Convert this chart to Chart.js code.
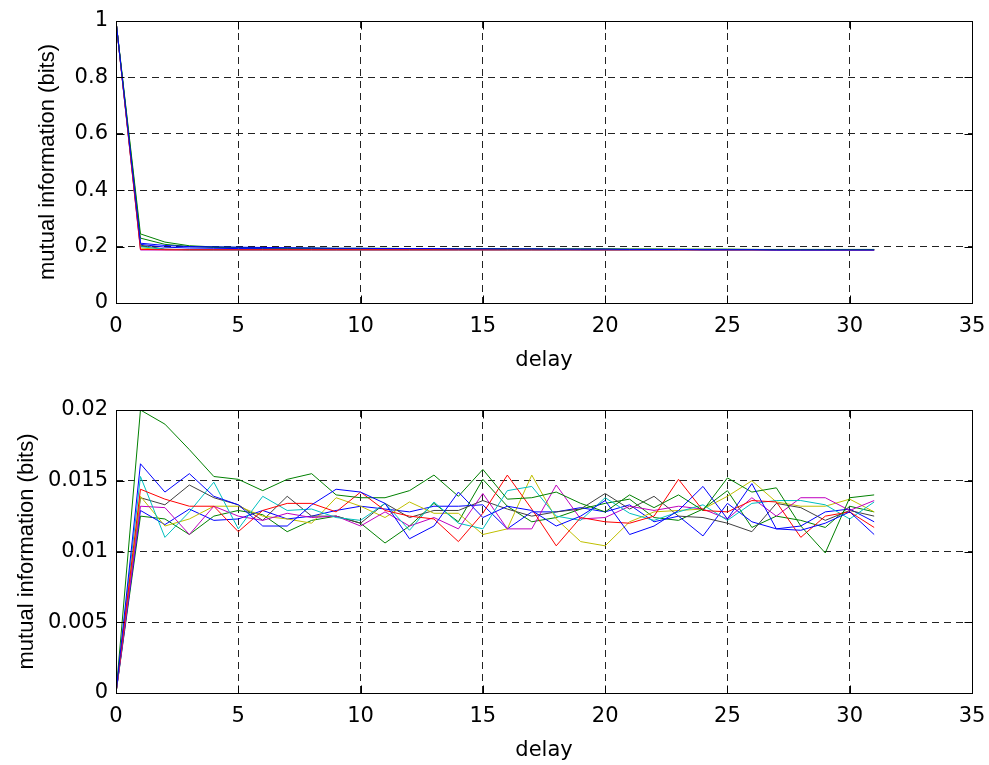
<!DOCTYPE html>
<html>
<head>
<meta charset="utf-8">
<script src="https://cdn.jsdelivr.net/npm/chart.js@4.4.1/dist/chart.umd.min.js"></script>
<style>
  html, body { margin: 0; padding: 0; background: #fff; }
  #wrap { position: relative; width: 989px; height: 765px; overflow: hidden; }
  canvas { position: absolute; left: 0; }
  #c1 { top: 0; }
  #c2 { top: 382px; }
</style>
</head>
<body>
<div id="wrap">
  <canvas id="c1" width="989" height="382"></canvas>
  <canvas id="c2" width="989" height="383"></canvas>
</div>
<script>
// ---------- data ----------
const delays = [0,1,2,3,4,5,6,7,8,9,10,11,12,13,14,15,16,17,18,19,20,21,22,23,24,25,26,27,28,29,30,31];
const xTicks = [0,5,10,15,20,25,30,35];
const yTicksTop = [0,0.2,0.4,0.6,0.8,1];
const yTicksBottom = [0,0.005,0.01,0.015,0.02];
const xTitle = 'delay';
const yTitle = 'mutual information (bits)';

// series colours (MATLAB default order b,g,r,c,m,y,k,b,g)
const seriesColors = ['#0000ff','#008000','#ff0000','#00bfbf','#bf00bf','#bfbf00','#404040','#0000ff','#008000'];

// top panel
const topB1 = [1,0.212,0.204,0.200,0.199,0.198,0.197,0.196,0.195,0.194,0.194,0.193,0.193,0.193,0.192,0.192,0.192,0.192,0.191,0.191,0.191,0.190,0.190,0.190,0.189,0.189,0.189,0.188,0.188,0.188,0.188,0.188];
const topG1 = [1,0.245,0.216,0.203,0.199,0.197,0.196,0.195,0.195,0.194,0.194,0.194,0.193,0.193,0.193,0.193,0.192,0.192,0.192,0.192,0.192,0.191,0.191,0.191,0.191,0.191,0.190,0.190,0.190,0.190,0.190,0.190];
const topR  = [1,0.190,0.189,0.189,0.189,0.189,0.189,0.189,0.189,0.189,0.189,0.189,0.189,0.189,0.189,0.189,0.189,0.189,0.189,0.189,0.189,0.189,0.189,0.189,0.189,0.189,0.189,0.189,0.189,0.189,0.189,0.189];
const topC  = [1,0.200,0.190,0.189,0.189,0.189,0.189,0.189,0.189,0.189,0.189,0.189,0.189,0.189,0.189,0.189,0.189,0.189,0.189,0.189,0.189,0.189,0.189,0.189,0.189,0.189,0.189,0.189,0.189,0.189,0.189,0.189];
const topM  = [1,0.188,0.188,0.188,0.188,0.188,0.188,0.188,0.188,0.188,0.188,0.188,0.188,0.188,0.188,0.188,0.188,0.188,0.188,0.188,0.188,0.188,0.188,0.188,0.188,0.188,0.188,0.188,0.188,0.188,0.188,0.188];
const topY  = [1,0.195,0.189,0.188,0.188,0.188,0.188,0.188,0.188,0.188,0.188,0.188,0.188,0.188,0.188,0.188,0.188,0.188,0.188,0.188,0.188,0.188,0.188,0.188,0.188,0.188,0.188,0.188,0.188,0.188,0.188,0.188];
const topK  = [1,0.205,0.191,0.189,0.189,0.189,0.189,0.189,0.189,0.189,0.189,0.189,0.189,0.189,0.189,0.189,0.189,0.189,0.189,0.189,0.189,0.189,0.189,0.189,0.189,0.189,0.189,0.189,0.189,0.189,0.189,0.189];
const topB2 = [1,0.208,0.198,0.195,0.194,0.193,0.193,0.192,0.192,0.192,0.191,0.191,0.191,0.191,0.190,0.190,0.190,0.190,0.190,0.189,0.189,0.189,0.189,0.189,0.188,0.188,0.188,0.187,0.187,0.187,0.187,0.187];
const topG2 = [1,0.230,0.208,0.200,0.197,0.196,0.195,0.194,0.194,0.193,0.193,0.193,0.193,0.192,0.192,0.192,0.192,0.192,0.191,0.191,0.191,0.191,0.191,0.190,0.190,0.190,0.190,0.189,0.189,0.189,0.189,0.189];

// bottom panel
const botB1 = [0,0.0162,0.0142,0.0155,0.0139,0.0133,0.0118,0.0118,0.0133,0.0144,0.0142,0.0134,0.0109,0.0118,0.0142,0.0124,0.0132,0.0129,0.0118,0.0125,0.0136,0.0112,0.0118,0.0129,0.0146,0.0123,0.0148,0.0116,0.0115,0.0120,0.0128,0.0112];
const botG1 = [0,0.0200,0.0190,0.0172,0.0153,0.0151,0.0143,0.0151,0.0155,0.0140,0.0138,0.0138,0.0143,0.0154,0.0139,0.0158,0.0137,0.0138,0.0142,0.0134,0.0128,0.0140,0.0131,0.0140,0.0129,0.0152,0.0142,0.0145,0.0118,0.0099,0.0138,0.0140];
const botR  = [0,0.0144,0.0137,0.0132,0.0132,0.0114,0.0129,0.0134,0.0134,0.0128,0.0142,0.0129,0.0125,0.0123,0.0107,0.0127,0.0154,0.0130,0.0104,0.0124,0.0121,0.0120,0.0125,0.0151,0.0129,0.0128,0.0136,0.0135,0.0110,0.0125,0.0128,0.0117];
const botC  = [0,0.0153,0.0110,0.0128,0.0149,0.0116,0.0139,0.0129,0.0130,0.0124,0.0122,0.0134,0.0115,0.0135,0.0120,0.0116,0.0143,0.0146,0.0125,0.0122,0.0138,0.0127,0.0122,0.0128,0.0133,0.0122,0.0134,0.0136,0.0136,0.0133,0.0123,0.0135];
const botM  = [0,0.0132,0.0131,0.0112,0.0132,0.0125,0.0122,0.0127,0.0124,0.0125,0.0118,0.0128,0.0118,0.0124,0.0116,0.0141,0.0116,0.0116,0.0147,0.0123,0.0124,0.0132,0.0129,0.0132,0.0130,0.0123,0.0138,0.0125,0.0138,0.0138,0.0129,0.0136];
const botY  = [0,0.0139,0.0118,0.0123,0.0132,0.0132,0.0125,0.0123,0.0120,0.0138,0.0132,0.0124,0.0135,0.0127,0.0127,0.0112,0.0116,0.0154,0.0123,0.0107,0.0104,0.0121,0.0128,0.0129,0.0130,0.0139,0.0150,0.0135,0.0132,0.0132,0.0137,0.0128];
const botK  = [0,0.0138,0.0133,0.0147,0.0138,0.0133,0.0122,0.0139,0.0125,0.0125,0.0120,0.0134,0.0124,0.0129,0.0129,0.0136,0.0130,0.0125,0.0128,0.0130,0.0141,0.0130,0.0139,0.0125,0.0124,0.0120,0.0114,0.0134,0.0131,0.0122,0.0129,0.0125];
const botB2 = [0,0.0129,0.0119,0.0130,0.0122,0.0123,0.0129,0.0123,0.0125,0.0129,0.0132,0.0130,0.0128,0.0132,0.0132,0.0133,0.0116,0.0128,0.0128,0.0131,0.0128,0.0133,0.0121,0.0125,0.0111,0.0134,0.0121,0.0116,0.0118,0.0128,0.0130,0.0121];
const botG2 = [0,0.0125,0.0123,0.0112,0.0125,0.0129,0.0126,0.0114,0.0122,0.0125,0.0120,0.0106,0.0118,0.0134,0.0121,0.0151,0.0132,0.0121,0.0124,0.0130,0.0134,0.0137,0.0124,0.0122,0.0130,0.0143,0.0117,0.0125,0.0122,0.0117,0.0132,0.0128];

const topSeries = [topB1, topG1, topR, topC, topM, topY, topK, topB2, topG2];
const botSeries = [botB1, botG1, botR, botC, botM, botY, botK, botB2, botG2];

// ---------- drawing ----------
const TICK_FONT = { family: "'DejaVu Sans', sans-serif", size: 21 };
const YTITLE_FONT = { family: "'Liberation Sans', Arial, sans-serif", size: 22 };

const framePlugin = {
  id: 'frame',
  afterDatasetsDraw(chart) {
    const { ctx, chartArea: a, scales } = chart;
    ctx.save();
    ctx.strokeStyle = '#000';
    ctx.lineWidth = 1;
    ctx.setLineDash([]);
    const L = Math.round(a.left) + 0.5, R = Math.round(a.right) + 0.5;
    const T = Math.round(a.top) + 0.5, B = Math.round(a.bottom) + 0.5;
    ctx.strokeRect(L, T, R - L, B - T);
    const tl = 8;
    ctx.beginPath();
    scales.x.ticks.forEach(t => {
      const px = Math.round(scales.x.getPixelForValue(t.value)) + 0.5;
      ctx.moveTo(px, B); ctx.lineTo(px, B - tl);
      ctx.moveTo(px, T); ctx.lineTo(px, T + tl);
    });
    scales.y.ticks.forEach(t => {
      const py = Math.round(scales.y.getPixelForValue(t.value)) + 0.5;
      ctx.moveTo(L, py); ctx.lineTo(L + tl, py);
      ctx.moveTo(R, py); ctx.lineTo(R - tl, py);
    });
    ctx.stroke();
    ctx.restore();
  }
};

function gridColor(min, max) {
  return c => (c.tick && (c.tick.value === min || c.tick.value === max)) ? 'rgba(0,0,0,0)' : '#222';
}

function makeChart(id, series, yTicks, yMax, opts) {
  const datasets = series.map((s, i) => ({
    data: s.map((v, j) => ({ x: delays[j], y: v })),
    borderColor: seriesColors[i],
    borderWidth: 1,
    pointRadius: 0,
    tension: 0,
    fill: false
  }));
  return new Chart(document.getElementById(id), {
    type: 'line',
    data: { datasets },
    plugins: [framePlugin],
    options: {
      responsive: false,
      animation: false,
      devicePixelRatio: 1,
      layout: { padding: { top: opts.padTop, right: 17, left: 0, bottom: 0 } },
      plugins: { legend: { display: false }, tooltip: { enabled: false } },
      scales: {
        x: {
          type: 'linear', min: 0, max: 35,
          afterBuildTicks: s => { s.ticks = xTicks.map(v => ({ value: v })); },
          afterFit: s => { s.height = opts.xHeight; s.paddingLeft = 0; s.paddingRight = 0; },
          ticks: { color: '#000', font: TICK_FONT, padding: 11, maxRotation: 0, autoSkip: false,
                   callback: v => String(v) },
          grid: { color: gridColor(0, 35), lineWidth: 1, drawTicks: false },
          border: { display: false, dash: [7, 5] },
          title: { display: true, text: xTitle, color: '#000', font: TICK_FONT,
                   padding: { top: 0, bottom: opts.xTitlePad } }
        },
        y: {
          type: 'linear', min: 0, max: yMax,
          afterBuildTicks: s => { s.ticks = yTicks.map(v => ({ value: v })); },
          afterFit: s => { s.width = 116; s.paddingTop = 0; s.paddingBottom = 0; },
          ticks: { color: '#000', font: TICK_FONT, padding: 8, autoSkip: false,
                   callback: v => String(+Number(v).toFixed(4)) },
          grid: { color: gridColor(0, yMax), lineWidth: 1, drawTicks: false },
          border: { display: false, dash: [7, 5] },
          title: { display: true, text: yTitle, color: '#000', font: YTITLE_FONT,
                   padding: { top: opts.yTitlePad, bottom: 0 } }
        }
      }
    }
  });
}

makeChart('c1', topSeries, yTicksTop, 1, { padTop: 21, xHeight: 79, xTitlePad: 9, yTitlePad: 35 });
makeChart('c2', botSeries, yTicksBottom, 0.02, { padTop: 28, xHeight: 72, xTitlePad: 2, yTitlePad: 14 });
</script>
</body>
</html>
